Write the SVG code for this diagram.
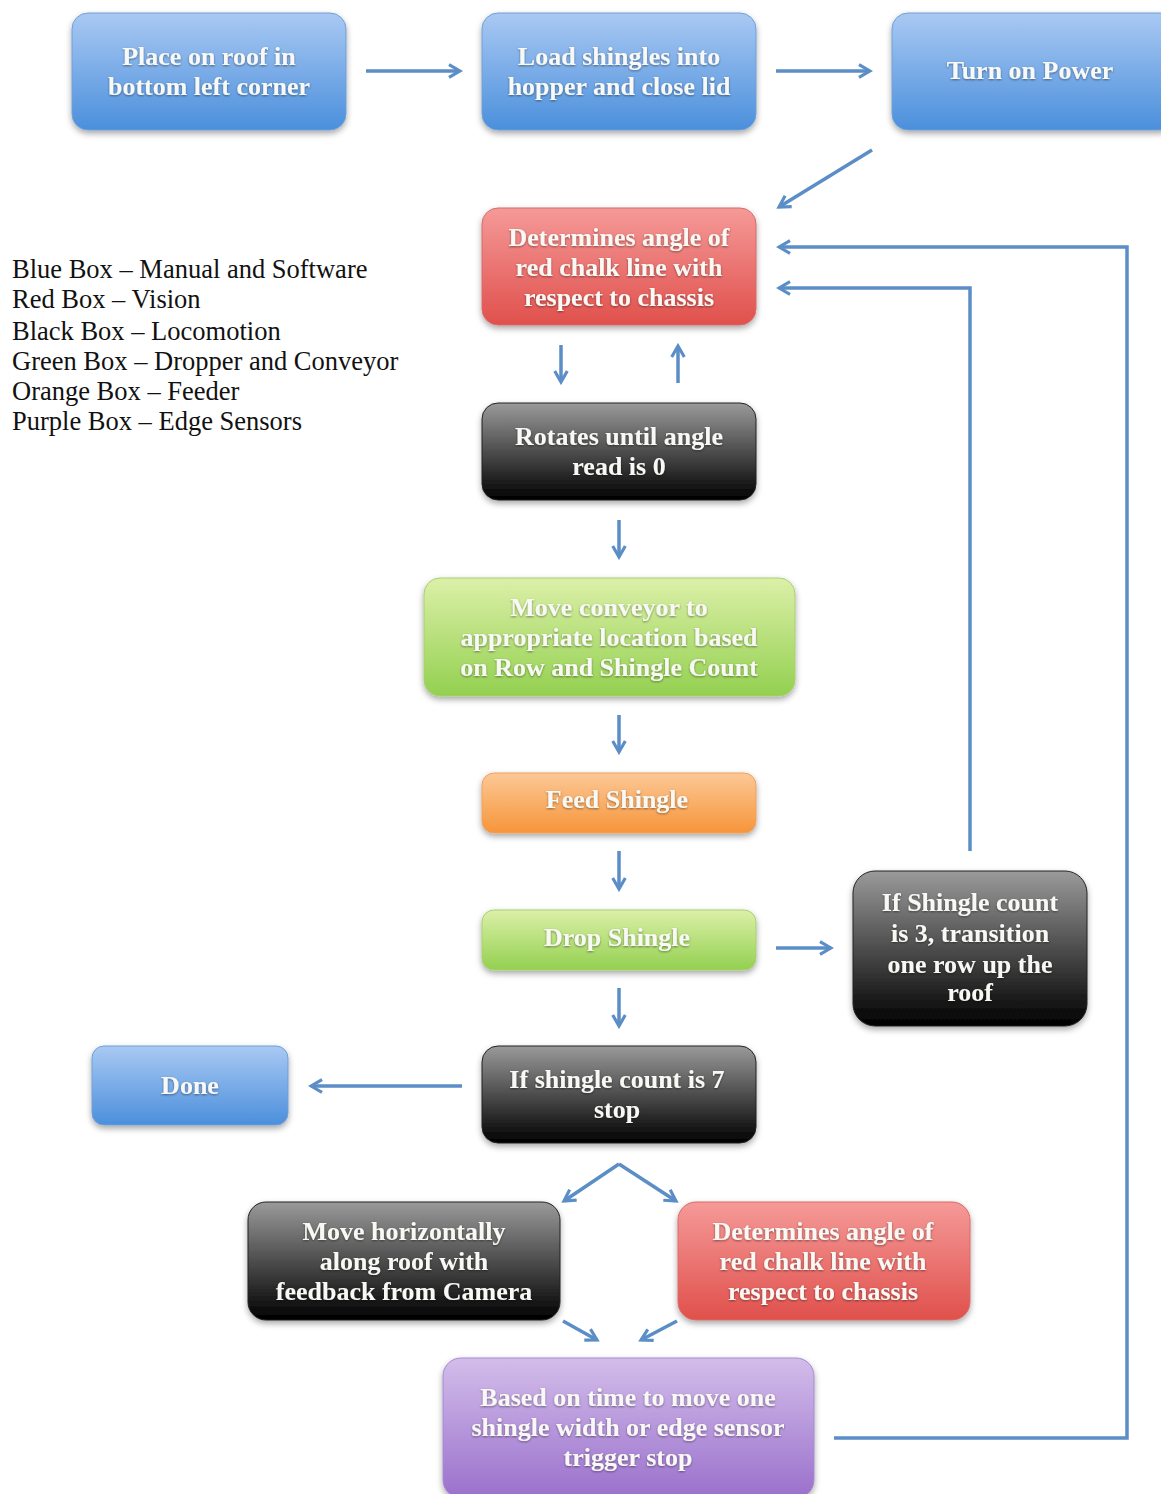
<svg xmlns="http://www.w3.org/2000/svg" width="1161" height="1494" viewBox="0 0 1161 1494">
<style>
.t{font-family:"Liberation Serif","DejaVu Serif",serif;font-size:26px;font-weight:bold;fill:#f8f8f4;text-anchor:middle}
.lg{font-family:"Liberation Serif","DejaVu Serif",serif;font-size:26.5px;fill:#111}
.c{fill:none;stroke:#5b8dc6;stroke-width:3.5}
</style>
<defs>
<linearGradient id="gBlue" x1="0" y1="0" x2="0" y2="1"><stop offset="0" stop-color="#a9c9f3"/><stop offset="1" stop-color="#4b8fdc"/></linearGradient>
<linearGradient id="gRed" x1="0" y1="0" x2="0" y2="1"><stop offset="0" stop-color="#f59a98"/><stop offset="1" stop-color="#e0504c"/></linearGradient>
<linearGradient id="gBlack" x1="0" y1="0" x2="0" y2="1"><stop offset="0" stop-color="#9a9a9a"/><stop offset="1" stop-color="#000"/></linearGradient>
<linearGradient id="gGreen" x1="0" y1="0" x2="0" y2="1"><stop offset="0" stop-color="#dcf0a8"/><stop offset="1" stop-color="#93d050"/></linearGradient>
<linearGradient id="gOrange" x1="0" y1="0" x2="0" y2="1"><stop offset="0" stop-color="#fcc896"/><stop offset="1" stop-color="#f7953a"/></linearGradient>
<linearGradient id="gPurple" x1="0" y1="0" x2="0" y2="1"><stop offset="0" stop-color="#d3bdea"/><stop offset="1" stop-color="#9a70cc"/></linearGradient>
<filter id="sh" x="-10%" y="-10%" width="120%" height="130%"><feDropShadow dx="0" dy="3" stdDeviation="3" flood-color="#000" flood-opacity="0.35"/></filter>
<filter id="ts" x="-5%" y="-20%" width="110%" height="140%"><feDropShadow dx="0" dy="1" stdDeviation="0.8" flood-color="#000" flood-opacity="0.45"/></filter>
<marker id="ah" viewBox="0 0 10 10" refX="8" refY="5" markerWidth="4.5" markerHeight="4.5" orient="auto" markerUnits="strokeWidth"><path d="M1,1 L8,5 L1,9" fill="none" stroke="#5b8dc6" stroke-width="2"/></marker>
</defs>
<rect width="1161" height="1494" fill="#fff"/>

<g id="legend">
<text class="lg" x="12" y="278">Blue Box – Manual and Software</text>
<text class="lg" x="12" y="308">Red Box – Vision</text>
<text class="lg" x="12" y="340">Black Box – Locomotion</text>
<text class="lg" x="12" y="370">Green Box – Dropper and Conveyor</text>
<text class="lg" x="12" y="400">Orange Box – Feeder</text>
<text class="lg" x="12" y="430">Purple Box – Edge Sensors</text>
</g>

<g id="connectors">
<line class="c" x1="366" y1="71" x2="460" y2="71" marker-end="url(#ah)"/>
<line class="c" x1="776" y1="71" x2="870" y2="71" marker-end="url(#ah)"/>
<line class="c" x1="872" y1="150" x2="779" y2="207" marker-end="url(#ah)"/>
<line class="c" x1="561" y1="345" x2="561" y2="382" marker-end="url(#ah)"/>
<line class="c" x1="678" y1="383" x2="678" y2="346" marker-end="url(#ah)"/>
<line class="c" x1="619" y1="520" x2="619" y2="557" marker-end="url(#ah)"/>
<line class="c" x1="619" y1="715" x2="619" y2="752" marker-end="url(#ah)"/>
<line class="c" x1="619" y1="851" x2="619" y2="889" marker-end="url(#ah)"/>
<line class="c" x1="776" y1="948" x2="831" y2="948" marker-end="url(#ah)"/>
<line class="c" x1="619" y1="988" x2="619" y2="1026" marker-end="url(#ah)"/>
<line class="c" x1="462" y1="1086" x2="311" y2="1086" marker-end="url(#ah)"/>
<polyline class="c" points="970,851 970,288 779,288" marker-end="url(#ah)"/>
<polyline class="c" points="834,1438 1127,1438 1127,247 779,247" marker-end="url(#ah)"/>
<line class="c" x1="619" y1="1164" x2="564" y2="1201" marker-end="url(#ah)"/>
<line class="c" x1="619" y1="1164" x2="676" y2="1201" marker-end="url(#ah)"/>
<line class="c" x1="563" y1="1321" x2="597" y2="1340" marker-end="url(#ah)"/>
<line class="c" x1="677" y1="1321" x2="641" y2="1340" marker-end="url(#ah)"/>
</g>

<g id="n1"><rect x="72" y="13" width="274" height="117" rx="16" fill="url(#gBlue)" stroke="#6f9fd8" filter="url(#sh)"/>
<g filter="url(#ts)"><text class="t" x="209" y="65">Place on roof in</text><text class="t" x="209" y="95">bottom left corner</text></g></g>

<g id="n2"><rect x="482" y="13" width="274" height="117" rx="16" fill="url(#gBlue)" stroke="#6f9fd8" filter="url(#sh)"/>
<g filter="url(#ts)"><text class="t" x="619" y="65">Load shingles into</text><text class="t" x="619" y="95">hopper and close lid</text></g></g>

<g id="n3"><rect x="892" y="13" width="284" height="117" rx="16" fill="url(#gBlue)" stroke="#6f9fd8" filter="url(#sh)"/>
<g filter="url(#ts)"><text class="t" x="1030" y="79">Turn on Power</text></g></g>

<g id="n4"><rect x="482" y="208" width="274" height="117" rx="16" fill="url(#gRed)" stroke="#d86a68" filter="url(#sh)"/>
<g filter="url(#ts)"><text class="t" x="619" y="246">Determines angle of</text><text class="t" x="619" y="276">red chalk line with</text><text class="t" x="619" y="306">respect to chassis</text></g></g>

<g id="n5"><rect x="482" y="403" width="274" height="97" rx="16" fill="url(#gBlack)" stroke="#222" filter="url(#sh)"/>
<g filter="url(#ts)"><text class="t" x="619" y="445">Rotates until angle</text><text class="t" x="619" y="475">read is 0</text></g></g>

<g id="n6"><rect x="424" y="578" width="371" height="118" rx="16" fill="url(#gGreen)" stroke="#a8d070" filter="url(#sh)"/>
<g filter="url(#ts)"><text class="t" x="609" y="616">Move conveyor to</text><text class="t" x="609" y="646">appropriate location based</text><text class="t" x="609" y="676">on Row and Shingle Count</text></g></g>

<g id="n7"><rect x="482" y="773" width="274" height="60" rx="12" fill="url(#gOrange)" stroke="#f0a060" filter="url(#sh)"/>
<g filter="url(#ts)"><text class="t" x="617" y="808">Feed Shingle</text></g></g>

<g id="n8"><rect x="482" y="910" width="274" height="60" rx="12" fill="url(#gGreen)" stroke="#a8d070" filter="url(#sh)"/>
<g filter="url(#ts)"><text class="t" x="617" y="946">Drop Shingle</text></g></g>

<g id="n9"><rect x="853" y="871" width="234" height="155" rx="22" fill="url(#gBlack)" stroke="#222" filter="url(#sh)"/>
<g filter="url(#ts)"><text class="t" x="970" y="911">If Shingle count</text><text class="t" x="970" y="942">is 3, transition</text><text class="t" x="970" y="973">one row up the</text><text class="t" x="970" y="1001">roof</text></g></g>

<g id="n10"><rect x="482" y="1046" width="274" height="97" rx="16" fill="url(#gBlack)" stroke="#222" filter="url(#sh)"/>
<g filter="url(#ts)"><text class="t" x="617" y="1088">If shingle count is 7</text><text class="t" x="617" y="1118">stop</text></g></g>

<g id="n11"><rect x="92" y="1046" width="196" height="79" rx="12" fill="url(#gBlue)" stroke="#6f9fd8" filter="url(#sh)"/>
<g filter="url(#ts)"><text class="t" x="190" y="1094">Done</text></g></g>

<g id="n12"><rect x="248" y="1202" width="312" height="118" rx="18" fill="url(#gBlack)" stroke="#222" filter="url(#sh)"/>
<g filter="url(#ts)"><text class="t" x="404" y="1240">Move horizontally</text><text class="t" x="404" y="1270">along roof with</text><text class="t" x="404" y="1300">feedback from Camera</text></g></g>

<g id="n13"><rect x="678" y="1202" width="292" height="118" rx="18" fill="url(#gRed)" stroke="#d86a68" filter="url(#sh)"/>
<g filter="url(#ts)"><text class="t" x="823" y="1240">Determines angle of</text><text class="t" x="823" y="1270">red chalk line with</text><text class="t" x="823" y="1300">respect to chassis</text></g></g>

<g id="n14"><rect x="443" y="1358" width="371" height="140" rx="18" fill="url(#gPurple)" stroke="#a68ad0" filter="url(#sh)"/>
<g filter="url(#ts)"><text class="t" x="628" y="1406">Based on time to move one</text><text class="t" x="628" y="1436">shingle width or edge sensor</text><text class="t" x="628" y="1466">trigger stop</text></g></g>
</svg>
